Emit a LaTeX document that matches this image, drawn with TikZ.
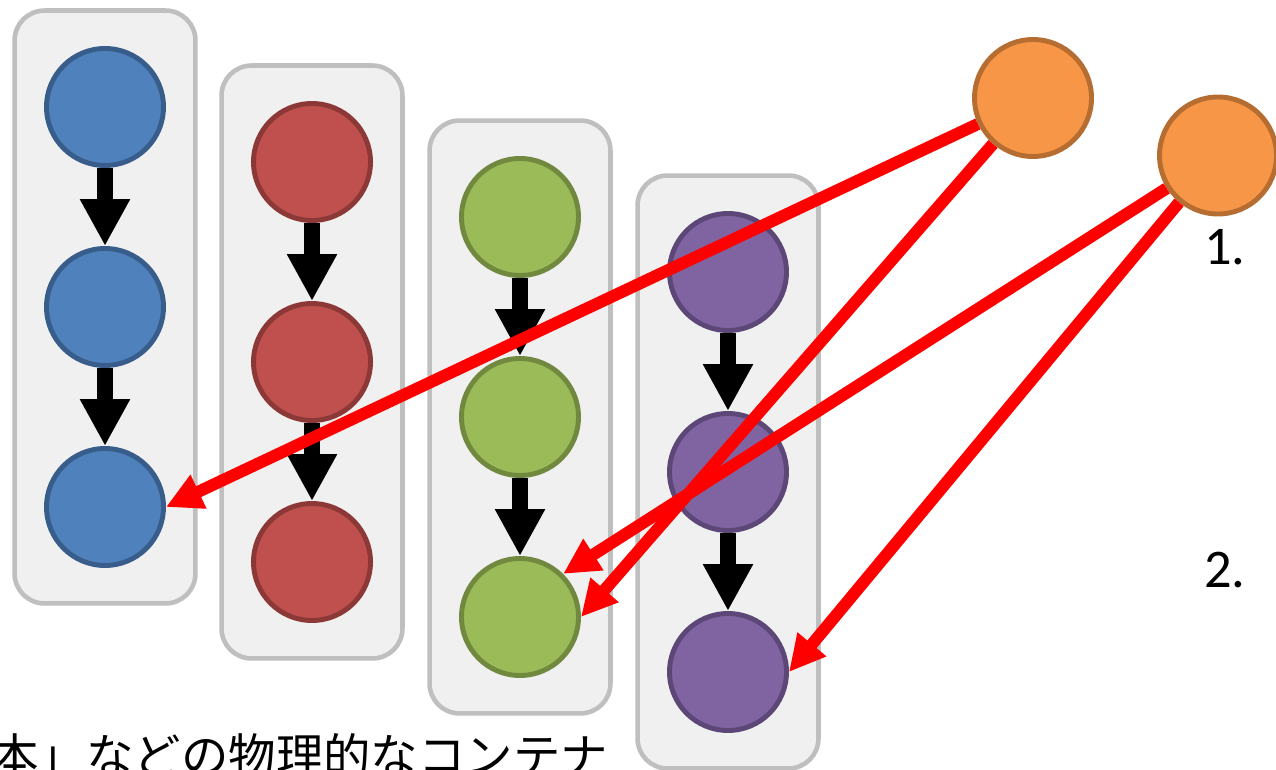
\documentclass[tikz,border=0pt]{standalone}
\usepackage{fontspec}
\setmainfont{Carlito}
\newfontfamily\jpfont{Noto Sans CJK JP}
\usetikzlibrary{arrows.meta,fit,backgrounds}

\definecolor{blueF}{HTML}{4F81BD}
\definecolor{blueD}{HTML}{385D8A}
\definecolor{redF}{HTML}{C0504D}
\definecolor{redD}{HTML}{8C3836}
\definecolor{greenF}{HTML}{9BBB59}
\definecolor{greenD}{HTML}{71893F}
\definecolor{purpF}{HTML}{8064A2}
\definecolor{purpD}{HTML}{5C4776}
\definecolor{orangeF}{HTML}{F79646}
\definecolor{orangeD}{HTML}{B66D31}
\definecolor{laneF}{HTML}{F0F0F0}
\definecolor{laneD}{HTML}{BFBFBF}

\tikzset{
  ball/.style={circle, inner sep=0pt, minimum size=2.34cm, line width=2.8pt},
  lane/.style={rounded corners=0.6cm, fill=laneF, draw=laneD, line width=2.6pt,
               inner xsep=0.59cm, inner ysep=0.71cm},
  chain/.style={line width=0.32cm, -{Triangle[length=0.94cm, width=0.94cm]}},
  link/.style={red, line width=0.24cm, -{Triangle[length=0.72cm, width=0.7cm]}}
}

\begin{document}
\begin{tikzpicture}
  \useasboundingbox (0, 0) rectangle (25.52, 15.38);
  % columns
  \node [ball, fill=blueF, draw=blueD] (B1) at (2.10, 13.24) {};
  \node [ball, fill=blueF, draw=blueD] (B2) at (2.10, 9.24) {};
  \node [ball, fill=blueF, draw=blueD] (B3) at (2.10, 5.24) {};
  \node [ball, fill=redF, draw=redD] (R1) at (6.24, 12.14) {};
  \node [ball, fill=redF, draw=redD] (R2) at (6.24, 8.14) {};
  \node [ball, fill=redF, draw=redD] (R3) at (6.24, 4.14) {};
  \node [ball, fill=greenF, draw=greenD] (G1) at (10.40, 11.04) {};
  \node [ball, fill=greenF, draw=greenD] (G2) at (10.40, 7.04) {};
  \node [ball, fill=greenF, draw=greenD] (G3) at (10.40, 3.04) {};
  \node [ball, fill=purpF, draw=purpD] (P1) at (14.56, 9.94) {};
  \node [ball, fill=purpF, draw=purpD] (P2) at (14.56, 5.94) {};
  \node [ball, fill=purpF, draw=purpD] (P3) at (14.56, 1.94) {};
  \node [ball, fill=orangeF, draw=orangeD] (O1) at (20.66, 13.42) {};
  \node [ball, fill=orangeF, draw=orangeD] (O2) at (24.36, 12.27) {};
  \begin{scope}[on background layer]
    \node [lane, fit=(B1)(B3)] (LB) {};
    \node [lane, fit=(R1)(R3)] (LR) {};
    \node [lane, fit=(G1)(G3)] (LG) {};
    \node [lane, fit=(P1)(P3)] (LP) {};
  \end{scope}
  \foreach \c in {B, R, G, P} {
    \draw [chain] (\c1) -- (\c2);
    \draw [chain] (\c2) -- (\c3);
  }
  % references
  \draw [link] (O1) -- (B3.east);
  \draw [link] (O1) -- (G3.east);
  \draw [link] (O2) -- (G3.north east);
  \draw [link] (O2) -- (P3.east);
  \node [anchor=base west, inner sep=0pt, font=\fontsize{31pt}{31pt}\selectfont] (N1) at (24.08, 10.08) {1.};
  \node [anchor=base west, inner sep=0pt, font=\fontsize{31pt}{31pt}\selectfont] (N2) at (24.08, 3.64) {2.};
  \node [anchor=base west, inner sep=0pt, font=\jpfont\fontsize{27pt}{27pt}\selectfont] (JP) at (-0.18, -0.08) {本」などの物理的なコンテナ};
\end{tikzpicture}
\end{document}
